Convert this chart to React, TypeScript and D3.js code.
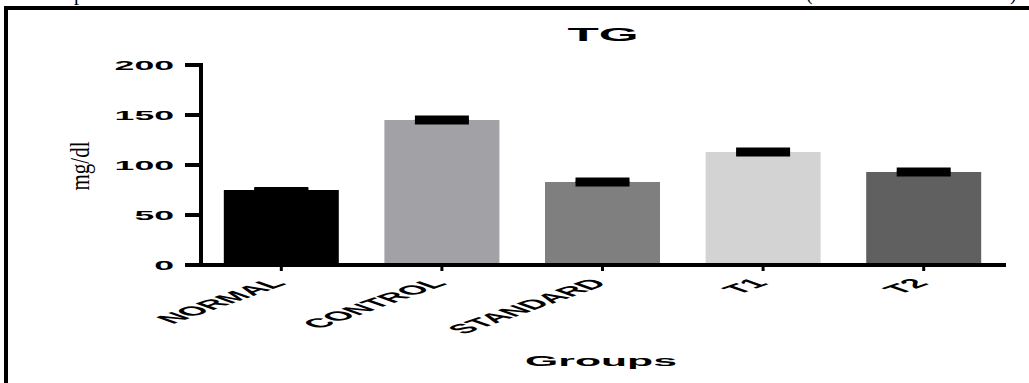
import { scaleBand, scaleLinear } from 'd3';

const groups = ['NORMAL', 'CONTROL', 'STANDARD', 'T1', 'T2'];
const means = [75, 145, 83, 113, 93];
const sems = [0.5, 2, 2, 2, 2];
const barColors = ['#000000', '#a2a1a6', '#7f7f7f', '#d3d3d3', '#606060'];
const yTicks = [0, 50, 100, 150, 200];

// the source figure was stretched sideways, so text is stretched too
const SX = 2.85;

const Stretched = ({ x, y, size, anchor = 'middle', rotate = 0, children }) => (
  <text
    transform={`translate(${x},${y}) scale(${SX},1) rotate(${rotate})`}
    textAnchor={anchor}
    fontFamily="'Liberation Sans', Arial, sans-serif"
    fontWeight="bold"
    fontSize={size}
    fill="#000"
  >
    {children}
  </text>
);

export default function App() {
  const x = scaleBand()
    .domain(groups)
    .range([201, 1004])
    .paddingInner(0.284)
    .paddingOuter(0.142);
  const y = scaleLinear().domain([0, 200]).range([265, 65]);
  const capW = 54;

  return (
    <svg
      width="1029"
      height="383"
      style={{ position: 'absolute', left: 0, top: 0, background: '#fff' }}
    >
      {/* clipped text from the page above */}
      <g fontFamily="'Liberation Serif', 'Times New Roman', serif" fontSize="20">
        <text x={74} y={0}>p</text>
        <text x={806} y={0}>(</text>
        <text x={1010} y={0}>)</text>
      </g>
      <line x1={6} y1={8} x2={1029} y2={8} stroke="#000" strokeWidth={4} />
      <line x1={6} y1={6} x2={6} y2={383} stroke="#000" strokeWidth={4} />

      <Stretched x={603} y={41} size={18}>TG</Stretched>

      {groups.map((g, i) => (
        <rect
          key={g}
          x={x(g)}
          y={y(means[i])}
          width={x.bandwidth()}
          height={y(0) - y(means[i])}
          fill={barColors[i]}
        />
      ))}

      {groups.map((g, i) => {
        const cx = x(g) + x.bandwidth() / 2;
        const hi = y(means[i] + sems[i]);
        const lo = y(means[i] - sems[i]);
        return (
          <g key={g} stroke="#000" strokeWidth={5}>
            <line x1={cx} x2={cx} y1={hi} y2={lo} />
            <line x1={cx - capW / 2} x2={cx + capW / 2} y1={hi} y2={hi} />
            <line x1={cx - capW / 2} x2={cx + capW / 2} y1={lo} y2={lo} />
          </g>
        );
      })}

      {/* y axis */}
      <line x1={201} x2={201} y1={y(200) - 2} y2={y(0) + 2} stroke="#000" strokeWidth={4} />
      {yTicks.map((t) => (
        <g key={t}>
          <line x1={185} x2={201} y1={y(t)} y2={y(t)} stroke="#000" strokeWidth={4} />
          <Stretched x={174} y={y(t) + 4.5} size={12.5} anchor="end">
            {t}
          </Stretched>
        </g>
      ))}
      <text
        transform={`translate(89,166) scale(1.25,1) rotate(-90)`}
        textAnchor="middle"
        fontFamily="'Liberation Serif', 'Times New Roman', serif"
        fontSize={21}
      >
        mg/dl
      </text>

      {/* x axis */}
      <line x1={185} x2={1006} y1={y(0)} y2={y(0)} stroke="#000" strokeWidth={4} />
      {groups.map((g) => {
        const cx = x(g) + x.bandwidth() / 2;
        return (
          <g key={g}>
            <line x1={cx} x2={cx} y1={y(0)} y2={y(0) + 6} stroke="#000" strokeWidth={3} />
            <Stretched x={cx + 6} y={284} size={13} anchor="end" rotate={-45}>
              {g}
            </Stretched>
          </g>
        );
      })}
      <Stretched x={601} y={366} size={15}>Groups</Stretched>
    </svg>
  );
}
